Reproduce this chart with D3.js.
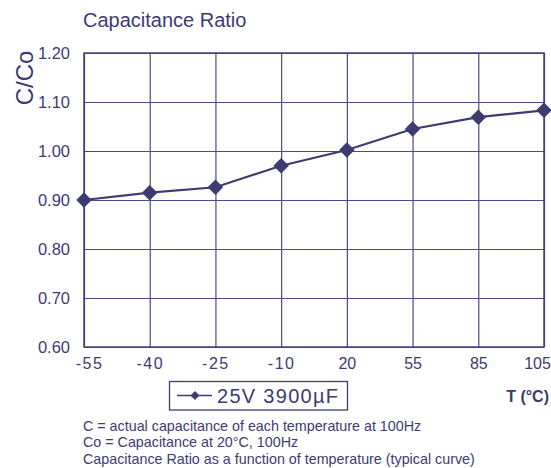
<!DOCTYPE html>
<html>
<head>
<meta charset="utf-8">
<script src="https://cdn.jsdelivr.net/npm/d3@7"></script>
<style>
  body { margin: 0; background: #fff; }
  svg { display: block; font-family: "Liberation Sans", Arial, sans-serif; }
</style>
</head>
<body>
<div id="chart"></div>
<script>
// temperature categories (°C) and capacitance ratio C/Co
const temps = ["-55", "-40", "-25", "-10", "20", "55", "85", "105"];
const ratio = [0.900, 0.915, 0.926, 0.970, 1.002, 1.045, 1.069, 1.083];
const yTicks = [0.60, 0.70, 0.80, 0.90, 1.00, 1.10, 1.20];
const seriesName = "25V 3900\u00b5F";
const notes = [
  "C = actual capacitance of each temperature at 100Hz",
  "Co = Capacitance at 20\u00b0C, 100Hz",
  "Capacitance Ratio as a function of temperature (typical curve)"
];

const width = 551, height = 468;
const margin = { top: 53, right: 7, bottom: 121, left: 84 };
const ink = "#3e3b71";
const grid = "#4d4a84";

const svg = d3.select("#chart").append("svg")
  .attr("width", width)
  .attr("height", height);

const x = d3.scalePoint()
  .domain(temps)
  .range([margin.left, width - margin.right]);

const y = d3.scaleLinear()
  .domain([0.6, 1.2])
  .range([height - margin.bottom, margin.top]);

const plotW = width - margin.right - margin.left;
const plotH = height - margin.bottom - margin.top;

// horizontal grid + y labels
const yAxis = svg.append("g")
  .attr("transform", `translate(${margin.left},0)`)
  .call(d3.axisLeft(y).tickValues(yTicks).tickFormat(d3.format(".2f"))
    .tickSize(-plotW).tickPadding(14));
yAxis.select(".domain").remove();
yAxis.selectAll("line").attr("stroke", grid).attr("stroke-width", 1.2);
yAxis.selectAll("text")
  .attr("fill", ink)
  .style("font-size", "16.5px")
  .style("font-family", "Liberation Sans, Arial, sans-serif");

// vertical grid + x labels
const xAxis = svg.append("g")
  .attr("transform", `translate(0,${height - margin.bottom})`)
  .call(d3.axisBottom(x).tickSize(-plotH).tickPadding(11));
xAxis.select(".domain").remove();
xAxis.selectAll("line").attr("stroke", grid).attr("stroke-width", 1.2);
xAxis.selectAll("text")
  .attr("fill", ink)
  .attr("dx", (d, i) => i === 0 ? 5 : (i === temps.length - 1 ? -7 : 0))
  .style("font-size", "16px")
  .style("letter-spacing", d => d.startsWith("-") ? "1.5px" : "0px")
  .style("font-family", "Liberation Sans, Arial, sans-serif");

// frame
svg.append("rect")
  .attr("x", margin.left)
  .attr("y", margin.top)
  .attr("width", plotW)
  .attr("height", plotH)
  .attr("fill", "none")
  .attr("stroke", ink)
  .attr("stroke-width", 1.4);

// series line
const line = d3.line()
  .x((d, i) => x(temps[i]))
  .y(d => y(d));

svg.append("path")
  .datum(ratio)
  .attr("d", line)
  .attr("fill", "none")
  .attr("stroke", ink)
  .attr("stroke-width", 2.2);

const diamond = d3.symbol().type(d3.symbolSquare).size(120);

svg.append("g")
  .selectAll("path")
  .data(ratio)
  .join("path")
  .attr("d", diamond)
  .attr("transform", (d, i) => `translate(${x(temps[i])},${y(d)}) rotate(45)`)
  .attr("fill", ink);

// title + axis titles
svg.append("text")
  .attr("x", 83)
  .attr("y", 27)
  .attr("fill", ink)
  .style("font-size", "20px")
  .text("Capacitance Ratio");

svg.append("text")
  .attr("transform", "translate(33,78) rotate(-90)")
  .attr("text-anchor", "middle")
  .attr("fill", ink)
  .style("font-size", "24px")
  .text("C/Co");

svg.append("text")
  .attr("x", 549)
  .attr("y", 402)
  .attr("text-anchor", "end")
  .attr("fill", ink)
  .style("font-size", "16px")
  .style("font-weight", "bold")
  .text("T (\u00b0C)");

// legend
const leg = svg.append("g");
leg.append("rect")
  .attr("x", 169.5)
  .attr("y", 381.5)
  .attr("width", 178)
  .attr("height", 28.5)
  .attr("fill", "#fff")
  .attr("stroke", ink)
  .attr("stroke-width", 1.3);
leg.append("line")
  .attr("x1", 177).attr("x2", 212)
  .attr("y1", 395.5).attr("y2", 395.5)
  .attr("stroke", ink)
  .attr("stroke-width", 1.6);
leg.append("path")
  .attr("d", d3.symbol().type(d3.symbolSquare).size(40))
  .attr("transform", "translate(195,395.5) rotate(45)")
  .attr("fill", ink);
leg.append("text")
  .attr("x", 217)
  .attr("y", 402.5)
  .attr("fill", ink)
  .attr("textLength", 121)
  .attr("lengthAdjust", "spacing")
  .style("font-size", "20px")
  .text(seriesName);

// footnotes
svg.append("g")
  .selectAll("text")
  .data(notes)
  .join("text")
  .attr("x", 83)
  .attr("y", (d, i) => 430.5 + i * 16.5)
  .attr("fill", ink)
  .style("font-size", "14.3px")
  .text(d => d);
</script>
</body>
</html>
